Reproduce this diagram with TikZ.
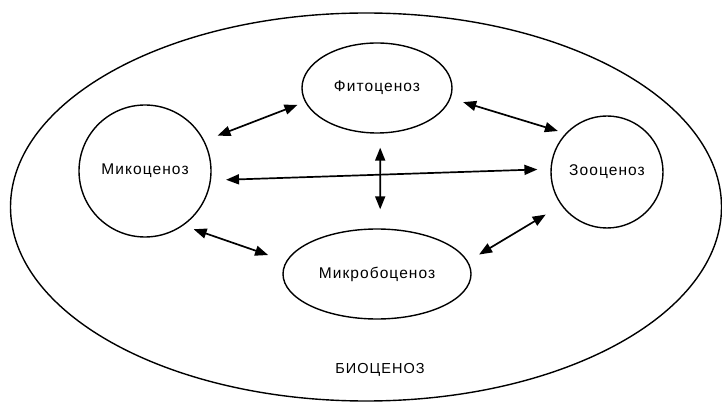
\documentclass[tikz,border=0pt]{standalone}
\usepackage{fontspec}
\setmainfont{Liberation Sans}[LetterSpace=7]
\usetikzlibrary{shapes.geometric,arrows.meta}
\begin{document}
\begin{tikzpicture}[x=1pt,y=-1pt,
  line width=1.4pt,
  txt/.style={font=\fontsize{15.5}{18}\selectfont},
  bio/.style={draw,ellipse,inner sep=0pt,txt},
  roundbio/.style={draw,circle,inner sep=0pt,txt},
  link/.style={{Triangle[length=13pt,width=10pt]}-{Triangle[length=13pt,width=10pt]},line width=1.7pt}]
\useasboundingbox (0,0) rectangle (722,403);
\node[draw,ellipse,minimum width=711pt,minimum height=388pt,inner sep=0pt] (bio) at (366,207) {};
\node[bio,minimum width=150pt,minimum height=90pt] (fito) at (377,88) {Фитоценоз};
\node[roundbio,minimum size=132pt] (miko) at (145,171) {Микоценоз};
\node[roundbio,minimum size=112pt] (zoo) at (607,172) {Зооценоз};
\node[bio,minimum width=188pt,minimum height=90pt] (mikrobo) at (377,274) {Микробоценоз};
\node[font=\fontsize{14.5}{18}\selectfont] (label) at (380,370) {БИОЦЕНОЗ};
\draw[link,shorten <=14pt,shorten >=8pt] (miko.27) -- (fito.191);
\draw[link,shorten <=13pt,shorten >=8pt] (fito.352) -- (zoo.137);
\draw[link,shorten <=15pt,shorten >=13pt] (miko.-8) -- (zoo.177);
\draw[link,shorten <=14pt,shorten >=19pt] (fito.274) -- (mikrobo.86);
\draw[link,shorten <=11pt,shorten >=19pt] (miko.-55) -- (mikrobo.172);
\draw[link,shorten <=13pt,shorten >=18pt] (mikrobo.8) -- (zoo.216);
\end{tikzpicture}
\end{document}
